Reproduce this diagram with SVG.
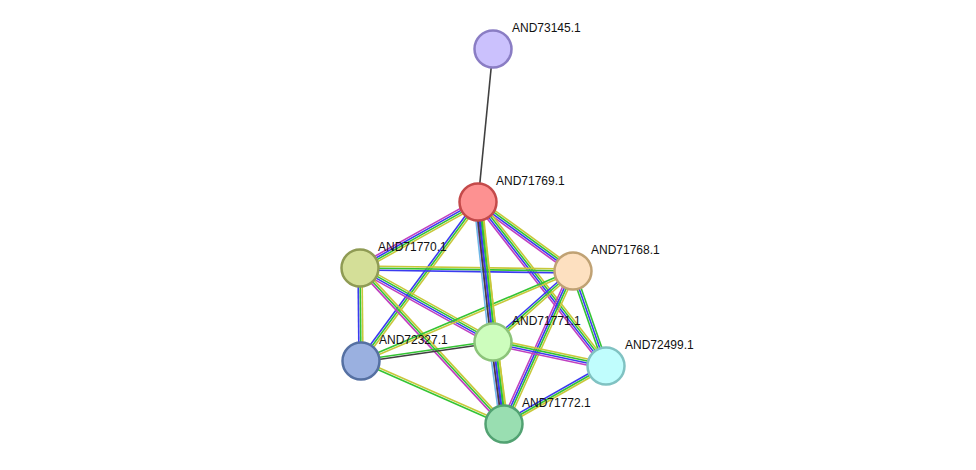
<svg xmlns="http://www.w3.org/2000/svg" width="976" height="470" viewBox="0 0 976 470">
<style>
line{stroke-width:1.6;fill:none}
.y{stroke:#c8c83a}.g{stroke:#33c433}.b{stroke:#3b3bf0}.p{stroke:#c040c0}.k{stroke:#404040}.l{stroke:#70b8e8}
.n circle{stroke-width:2.5}
text{font-family:"Liberation Sans",Arial,sans-serif;font-size:12px;fill:#111}
</style>
<rect width="976" height="470" fill="#fff"/>
<g id="connectors">
<line class="k" x1="493" y1="49" x2="478" y2="202"/>
<g><line class="y" x1="478" y1="202" x2="360" y2="268" transform="translate(1.47,2.61)"/><line class="g" x1="478" y1="202" x2="360" y2="268" transform="translate(0.49,0.87)"/><line class="b" x1="478" y1="202" x2="360" y2="268" transform="translate(-0.49,-0.87)"/><line class="p" x1="478" y1="202" x2="360" y2="268" transform="translate(-1.47,-2.61)"/></g>
<g><line class="y" x1="478" y1="202" x2="573" y2="271" transform="translate(1.77,-2.43)"/><line class="g" x1="478" y1="202" x2="573" y2="271" transform="translate(0.59,-0.81)"/><line class="b" x1="478" y1="202" x2="573" y2="271" transform="translate(-0.59,0.81)"/><line class="p" x1="478" y1="202" x2="573" y2="271" transform="translate(-1.77,2.43)"/></g>
<g><line class="y" x1="478" y1="202" x2="606" y2="366" transform="translate(2.37,-1.86)"/><line class="g" x1="478" y1="202" x2="606" y2="366" transform="translate(0.79,-0.62)"/><line class="b" x1="478" y1="202" x2="606" y2="366" transform="translate(-0.79,0.62)"/><line class="p" x1="478" y1="202" x2="606" y2="366" transform="translate(-2.37,1.86)"/></g>
<g><line class="y" x1="478" y1="202" x2="504" y2="424" transform="translate(3,-0.35)"/><line class="g" x1="478" y1="202" x2="504" y2="424" transform="translate(1,-0.12)"/><line class="b" x1="478" y1="202" x2="504" y2="424" transform="translate(-1,0.12)"/><line class="p" x1="478" y1="202" x2="504" y2="424" transform="translate(-3,0.35)"/></g>
<g><line class="y" x1="478" y1="202" x2="361" y2="361" transform="translate(1.62,1.18)"/><line class="g" x1="478" y1="202" x2="361" y2="361"/><line class="b" x1="478" y1="202" x2="361" y2="361" transform="translate(-1.62,-1.18)"/></g>
<g><line class="y" x1="360" y1="268" x2="573" y2="271" transform="translate(0,-2)"/><line class="g" x1="360" y1="268" x2="573" y2="271"/><line class="b" x1="360" y1="268" x2="573" y2="271" transform="translate(0,2)"/></g>
<g><line class="y" x1="360" y1="268" x2="493" y2="342" transform="translate(1.47,-2.61)"/><line class="g" x1="360" y1="268" x2="493" y2="342" transform="translate(0.49,-0.87)"/><line class="b" x1="360" y1="268" x2="493" y2="342" transform="translate(-0.49,0.87)"/><line class="p" x1="360" y1="268" x2="493" y2="342" transform="translate(-1.47,2.61)"/></g>
<g><line class="y" x1="360" y1="268" x2="361" y2="361" transform="translate(2,0)"/><line class="g" x1="360" y1="268" x2="361" y2="361"/><line class="b" x1="360" y1="268" x2="361" y2="361" transform="translate(-2,0)"/></g>
<g><line class="y" x1="360" y1="268" x2="504" y2="424" transform="translate(1.48,-1.36)"/><line class="g" x1="360" y1="268" x2="504" y2="424"/><line class="p" x1="360" y1="268" x2="504" y2="424" transform="translate(-1.48,1.36)"/></g>
<g><line class="y" x1="573" y1="271" x2="493" y2="342" transform="translate(1.32,1.5)"/><line class="g" x1="573" y1="271" x2="493" y2="342"/><line class="b" x1="573" y1="271" x2="493" y2="342" transform="translate(-1.32,-1.5)"/></g>
<g><line class="y" x1="573" y1="271" x2="361" y2="361" transform="translate(0.39,0.92)"/><line class="g" x1="573" y1="271" x2="361" y2="361" transform="translate(-0.39,-0.92)"/></g>
<g><line class="g" x1="573" y1="271" x2="606" y2="366" transform="translate(1.9,-0.66)"/><line class="b" x1="573" y1="271" x2="606" y2="366"/><line class="g" x1="573" y1="271" x2="606" y2="366" transform="translate(-1.9,0.66)"/></g>
<g><line class="y" x1="573" y1="271" x2="504" y2="424" transform="translate(2.73,1.23)"/><line class="g" x1="573" y1="271" x2="504" y2="424" transform="translate(0.91,0.41)"/><line class="b" x1="573" y1="271" x2="504" y2="424" transform="translate(-0.91,-0.41)"/><line class="p" x1="573" y1="271" x2="504" y2="424" transform="translate(-2.73,-1.23)"/></g>
<g><line class="k" x1="493" y1="342" x2="361" y2="361" transform="translate(0.14,0.99)"/><line class="g" x1="493" y1="342" x2="361" y2="361" transform="translate(-0.14,-0.99)"/></g>
<g><line class="y" x1="493" y1="342" x2="606" y2="366" transform="translate(0.63,-2.94)"/><line class="g" x1="493" y1="342" x2="606" y2="366" transform="translate(0.21,-0.98)"/><line class="b" x1="493" y1="342" x2="606" y2="366" transform="translate(-0.21,0.98)"/><line class="p" x1="493" y1="342" x2="606" y2="366" transform="translate(-0.63,2.94)"/></g>
<g><line class="y" x1="361" y1="361" x2="504" y2="424" transform="translate(0.4,-0.92)"/><line class="g" x1="361" y1="361" x2="504" y2="424" transform="translate(-0.4,0.92)"/></g>
<g><line class="y" x1="606" y1="366" x2="504" y2="424" transform="translate(1,1.74)"/><line class="g" x1="606" y1="366" x2="504" y2="424"/><line class="b" x1="606" y1="366" x2="504" y2="424" transform="translate(-1,-1.74)"/></g>
<g><line class="y" x1="478" y1="202" x2="493" y2="342" transform="translate(3.96,-0.44)"/><line class="g" x1="478" y1="202" x2="493" y2="342" transform="translate(1.98,-0.22)"/><line class="b" x1="478" y1="202" x2="493" y2="342"/><line class="k" x1="478" y1="202" x2="493" y2="342" transform="translate(-1.98,0.22)"/><line class="l" x1="478" y1="202" x2="493" y2="342" transform="translate(-3.96,0.44)"/></g>
<g><line class="y" x1="493" y1="342" x2="504" y2="424" transform="translate(3.96,-0.52)"/><line class="g" x1="493" y1="342" x2="504" y2="424" transform="translate(1.98,-0.26)"/><line class="b" x1="493" y1="342" x2="504" y2="424"/><line class="k" x1="493" y1="342" x2="504" y2="424" transform="translate(-1.98,0.26)"/><line class="l" x1="493" y1="342" x2="504" y2="424" transform="translate(-3.96,0.52)"/></g>
</g>
<g id="AND73145.1" class="n"><circle cx="493" cy="49" r="18.5" fill="#cbc1fd" stroke="#8a7dc4"/><text x="512" y="32">AND73145.1</text></g>
<g id="AND71769.1" class="n"><circle cx="478" cy="202" r="18.5" fill="#fd9191" stroke="#c44a4a"/><text x="496" y="185">AND71769.1</text></g>
<g id="AND71770.1" class="n"><circle cx="360" cy="268" r="18.5" fill="#d4df98" stroke="#8f9b54"/><text x="378" y="251">AND71770.1</text></g>
<g id="AND71768.1" class="n"><circle cx="573" cy="271" r="18.5" fill="#fde0c0" stroke="#c0a274"/><text x="591" y="254">AND71768.1</text></g>
<g id="AND71771.1" class="n"><circle cx="493" cy="342" r="18.5" fill="#cdfdbd" stroke="#8cc47a"/><text x="512" y="325">AND71771.1</text></g>
<g id="AND72327.1" class="n"><circle cx="361" cy="361" r="18.5" fill="#9ab0e0" stroke="#5570a2"/><text x="379" y="344">AND72327.1</text></g>
<g id="AND72499.1" class="n"><circle cx="606" cy="366" r="18.5" fill="#c0fdfd" stroke="#80c2c2"/><text x="625" y="349">AND72499.1</text></g>
<g id="AND71772.1" class="n"><circle cx="504" cy="424" r="18.5" fill="#99deb1" stroke="#52a272"/><text x="522" y="407">AND71772.1</text></g>
</svg>
